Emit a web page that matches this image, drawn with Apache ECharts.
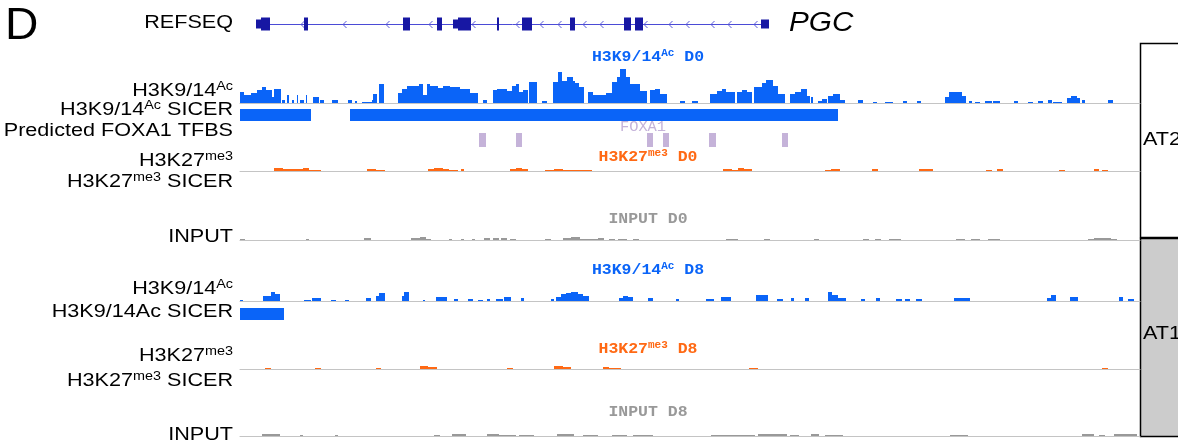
<!DOCTYPE html>
<html><head><meta charset="utf-8">
<script src="https://cdn.jsdelivr.net/npm/echarts@6/dist/echarts.min.js"></script>
<style>html,body{margin:0;padding:0;background:#fff}#c{width:1178px;height:444px}</style>
</head><body><div id="c"></div>
<script>
// ---------------- DATA (genomic units, region 0..900) ----------------
const regionRange = [0, 900];
const geneName = 'PGC';
const geneSpan = [16, 529];
// [start, end, kind]  kind: 'c' coding exon, 'u' UTR
const geneExons = [[16,21,'u'],[21,30,'c'],[64,68,'c'],[163,170,'c'],[197,202,'c'],[213,218,'u'],[218,231,'c'],[257,259,'c'],[282,292,'c'],[330,335,'c'],[384,391,'c'],[395,403,'c'],[521,529,'u']];
const geneStrandMarks = [62,104,147,190,233,277,301,319,344,361,405,430,447,472,489,515];

// bedGraph-style signal tracks: [start, end, value]
const h3k9acD0 = [[0,4,11],[4,11,8],[11,17,10],[17,22,13],[22,26,16],[26,32,13],[32,34,6],[34,41,14],[42,45,3],[47,49,8],[52,54,3],[57,58,8],[60,64,3],[66,67,8],[73,79,6],[80,84,3],[92,98,3],[108,112,3],[115,117,2],[122,132,1],[132,133,3],[133,137,9],[139,144,19],
[158,162,10],[162,167,14],[167,175,17],[175,179,17],[179,183,19],[183,187,8],[187,190,19],[190,198,17],[198,203,15],[203,210,17],[210,220,16],[220,230,14],[230,238,10],[243,247,3],[253,257,13],[257,267,14],[267,272,12],[272,276,17],[276,279,19],[279,283,11],[283,288,13],[289,297,21],[302,307,2],[313,318,21],[318,322,31],[322,327,22],[327,333,26],[333,335,22],[335,339,20],[339,344,16],[348,353,11],[353,357,8],[357,366,8],[366,372,10],[372,377,21],[377,380,26],[380,386,34],[386,390,26],[390,394,19],[394,400,19],[400,407,12],[410,415,13],[415,420,14],[420,427,9],[440,445,2],
[452,458,2],[470,477,9],[477,482,12],[482,486,14],[486,495,11],[497,502,11],[502,507,13],[507,512,11],[514,522,16],[522,526,20],[526,533,23],[533,538,17],[538,545,9],[550,555,9],[555,561,11],[561,567,14],[567,570,7],[571,573,6],[578,582,2],[582,587,4],[588,590,7],[590,593,7],[593,600,9],[600,605,3],[618,623,3],[633,637,1],[645,653,1],[663,667,2],[677,681,2],[705,709,6],[709,722,11],[722,726,7],[729,732,2],[735,740,1],[745,752,2],[753,760,2],[774,778,2],[788,793,1],[798,803,2],[808,812,3],[813,822,1],[827,831,5],[831,837,7],[837,840,5],[842,845,3],[868,873,3]];
const h3k27me3D0 = [[34,43,3],[43,54,2],[54,63,2],[63,69,3],[69,81,1],[127,136,2],[136,145,1],[188,194,2],[194,203,3],[203,209,2],[209,218,1],[221,224,2],[270,276,2],[276,282,3],[282,288,2],[305,314,1],[314,323,2],[323,331,1],[331,340,1],[340,352,1],[483,492,2],[492,498,1],[498,504,3],[504,512,2],[585,591,1],[591,600,2],[632,638,2],[679,693,2],[746,752,1],[757,763,2],[819,825,1],[854,859,2],[862,868,1]];
const inputD0 = [[0,5,1],[66,69,1],[124,131,2],[171,180,2],[180,186,3],[186,191,1],[209,212,1],[221,224,1],[232,235,1],[244,250,2],[253,259,2],[261,267,2],[270,276,1],[305,311,1],[323,331,2],[331,340,3],[340,358,1],[358,364,2],[369,375,1],[378,387,1],[393,399,1],[486,498,1],[524,530,1],[574,579,1],[623,629,1],[635,641,1],[649,661,1],[716,725,1],[731,740,1],[748,760,1],[848,854,1],[854,859,2],[859,871,2],[871,877,1]];
const h3k9acD8 = [[0,3,1],[23,31,5],[31,35,9],[35,40,7],[64,71,1],[72,81,3],[91,96,1],[105,109,1],[126,131,3],[136,139,5],[139,145,8],[162,164,5],[164,169,9],[183,185,1],[196,207,4],[214,218,2],[228,233,2],[238,243,1],[247,250,2],[256,263,2],[264,271,4],[281,284,3],[311,314,2],[316,321,4],[321,326,7],[326,331,8],[331,338,9],[338,343,7],[343,349,5],[379,383,3],[383,388,5],[388,393,4],[408,413,3],[436,439,2],
[466,474,2],[481,491,4],[516,528,6],[537,543,2],[551,554,3],[565,569,3],[588,592,9],[592,598,6],[598,606,3],[621,625,2],[636,640,3],[656,662,2],[665,670,2],[676,682,2],[714,730,3],[807,811,3],[811,816,6],[830,838,4],[879,883,4],[888,894,2]];
const h3k27me3D8 = [[25,31,1],[75,81,1],[136,141,1],[180,188,3],[188,197,2],[267,273,1],[314,323,3],[323,331,2],[363,369,2],[369,381,1],[509,518,1],[862,868,1]];
const inputD8 = [[22,40,2],[60,63,1],[95,98,1],[194,200,1],[212,226,2],[247,259,2],[259,276,1],[279,294,1],[317,334,2],[343,358,1],[372,387,1],[393,413,1],[471,501,1],[501,515,1],[518,530,2],[530,547,2],[550,559,1],[571,579,2],[585,603,1],[710,728,1],[842,854,2],[859,865,1],[874,897,2]];
// islands / sites: [start, end]
const sicerH3k9acD0 = [[0,71],[110,598]];
const sicerH3k9acD8 = [[0,44]];
const sicerH3k27me3D0 = [];
const sicerH3k27me3D8 = [];
const foxa1Sites = [[239,246],[276,282],[407,413],[423,429],[469,476],[542,548]];

// text
const panelLetter = 'D';
const trackTitles = [['H3K9/14','Ac',' D0'],['H3K27','me3',' D0'],['INPUT D0','',''],['H3K9/14','Ac',' D8'],['H3K27','me3',' D8'],['INPUT D8','','']];
const rowLabels = [['REFSEQ','',''],['H3K9/14','Ac',''],['H3K9/14','Ac',' SICER'],['Predicted FOXA1 TFBS','',''],['H3K27','me3',''],['H3K27','me3',' SICER'],['INPUT','',''],['H3K9/14','Ac',''],['H3K9/14Ac SICER','',''],['H3K27','me3',''],['H3K27','me3',' SICER'],['INPUT','','']];
const sideGroups = ['AT2','AT1'];
const foxa1Label = 'FOXA1';

// ---------------- LAYOUT / STYLE ----------------
const BLUE = '#0a64f8', ORANGE = '#ff6914', GRAY = '#999999', PURPLE = '#c5b3d9';
const X0 = 240, XW = 900;
const grids = [], xAxes = [], yAxes = [], series = [];
function addGrid(top, height, ymin, ymax, baseline) {
  const i = grids.length;
  grids.push({left: X0, width: XW, top: top, height: height});
  xAxes.push({type:'value', gridIndex:i, min:regionRange[0], max:regionRange[1], show:true,
    axisLine:{show:!!baseline, onZero:false, lineStyle:{color:'#c4c4c4', width:1}},
    axisTick:{show:false}, axisLabel:{show:false}, splitLine:{show:false}});
  yAxes.push({type:'value', gridIndex:i, min:ymin, max:ymax, show:false, splitLine:{show:false}});
  return i;
}
function rectItem(color) {
  return function(p, api) {
    const a = api.coord([api.value(0), api.value(2)]);
    const b = api.coord([api.value(1), api.value(3)]);
    return {type:'rect', shape:{x:a[0], y:a[1], width:Math.max(1,b[0]-a[0]), height:b[1]-a[1]}, style:{fill:color}};
  };
}
function bedSeries(gi, data, color) {
  return {type:'custom', xAxisIndex:gi, yAxisIndex:gi, silent:true, animation:false, clip:false,
    data: data.map(d => [d[0], d[1], d[2], 0]), encode:{x:[0,1], y:[2,3]}, renderItem: rectItem(color)};
}
function blockSeries(gi, data, color) {
  return {type:'custom', xAxisIndex:gi, yAxisIndex:gi, silent:true, animation:false, clip:false,
    data: data.map(d => [d[0], d[1], 1, 0]), encode:{x:[0,1], y:[2,3]}, renderItem: rectItem(color)};
}

// gene model
const gG = addGrid(14, 20, -1, 1, false);
series.push({type:'custom', xAxisIndex:gG, yAxisIndex:gG, silent:true, animation:false, data:[geneSpan],
  encode:{x:[0,1]}, renderItem:(p, api) => {
    const a = api.coord([api.value(0), 0]), b = api.coord([api.value(1), 0]);
    return {type:'line', shape:{x1:a[0], y1:Math.round(a[1])+0.5, x2:b[0], y2:Math.round(a[1])+0.5}, style:{stroke:'#4b4bd6', lineWidth:1}};
  }});
series.push({type:'custom', xAxisIndex:gG, yAxisIndex:gG, silent:true, animation:false,
  data: geneStrandMarks.map(v => [v]), encode:{x:0}, renderItem:(p, api) => {
    const a = api.coord([api.value(0), 0]);
    const y = Math.round(a[1]) + 0.5;
    return {type:'polyline', shape:{points:[[a[0]+2.5, y-3.5],[a[0]-1, y],[a[0]+2.5, y+3.5]]}, style:{stroke:'#5a5ad8', lineWidth:1, fill:null}};
  }});
series.push({type:'custom', xAxisIndex:gG, yAxisIndex:gG, silent:true, animation:false, clip:false,
  data: geneExons.map(e => { const h = e[2] === 'u' ? 0.45 : 0.65; return [e[0], e[1], h, -h]; }),
  encode:{x:[0,1], y:[2,3]}, renderItem: rectItem('#1717a3')});

// tracks
const tracks = [
  {base:103, h:36, data:h3k9acD0, color:BLUE},
  {base:171, h:36, data:h3k27me3D0, color:ORANGE},
  {base:240, h:36, data:inputD0, color:GRAY},
  {base:301, h:36, data:h3k9acD8, color:BLUE},
  {base:369, h:36, data:h3k27me3D8, color:ORANGE},
  {base:436, h:36, data:inputD8, color:GRAY}
];
tracks.forEach(t => {
  const gi = addGrid(t.base - t.h, t.h, 0, t.h, true);
  series.push(bedSeries(gi, t.data, t.color));
});
const blocks = [
  {top:109, h:12, data:sicerH3k9acD0, color:BLUE},
  {top:177, h:12, data:sicerH3k27me3D0, color:ORANGE},
  {top:133, h:14, data:foxa1Sites, color:PURPLE},
  {top:308, h:12, data:sicerH3k9acD8, color:BLUE},
  {top:375, h:12, data:sicerH3k27me3D8, color:ORANGE}
];
blocks.forEach(b => {
  const gi = addGrid(b.top, b.h, 0, 1, false);
  series.push(blockSeries(gi, b.data, b.color));
});

// graphics
const SANS = '"Liberation Sans", Arial, sans-serif';
const MONO = '"Liberation Mono", "Courier New", monospace';
function richText(parts, size, supSize, family, weight) {
  let t = '{m|' + parts[0] + '}';
  if (parts[1]) t += '{s|' + parts[1] + '}';
  if (parts[2]) t += '{m|' + parts[2] + '}';
  return {text:t, rich:{
    m:{fontSize:size, fontFamily:family, fontWeight:weight, lineHeight:size+2},
    s:{fontSize:supSize, fontFamily:family, fontWeight:weight, lineHeight:supSize+1, verticalAlign:'top'}
  }};
}
const graphics = [];
graphics.push({type:'text', x:5, y:27, scaleX:1.05, style:{text:panelLetter, font:'44px ' + SANS, fill:'#000', verticalAlign:'middle'}});
const labelY = [23, 91, 110, 131, 161, 182, 237, 289, 312, 356, 381, 435];
rowLabels.forEach((p, i) => {
  const r = richText(p, 18, 12, SANS, 'normal');
  graphics.push({type:'text', x:233, y:labelY[i], scaleX:1.2, style:{text:r.text, rich:r.rich, fill:'#000', align:'right', verticalAlign:'middle'}});
});
graphics.push({type:'text', x:789, y:23, scaleX:1.1, style:{text:geneName, font:'italic 27px ' + SANS, fill:'#000', verticalAlign:'middle'}});
const titleY = [57, 157, 219, 270, 349, 412];
const titleColor = [BLUE, ORANGE, GRAY, BLUE, ORANGE, GRAY];
trackTitles.forEach((p, i) => {
  const r = richText(p, 15, 10, MONO, 'bold');
  graphics.push({type:'text', x:648, y:titleY[i], scaleX:1.1, style:{text:r.text, rich:r.rich, fill:titleColor[i], align:'center', verticalAlign:'middle'}});
});
graphics.push({type:'text', x:643, y:127, scaleX:1.1, style:{text:foxa1Label, font:'14px ' + MONO, fill:PURPLE, align:'center', verticalAlign:'middle'}});
// side group boxes
graphics.push({type:'rect', shape:{x:1140.5, y:43.5, width:60, height:194}, style:{fill:'#ffffff', stroke:'#000', lineWidth:1.5}});
graphics.push({type:'rect', shape:{x:1140.5, y:238.5, width:60, height:198}, style:{fill:'#cccccc', stroke:'#000', lineWidth:1.5}});
graphics.push({type:'text', x:1143, y:140, scaleX:1.2, style:{text:sideGroups[0], font:'18px ' + SANS, fill:'#000', verticalAlign:'middle'}});
graphics.push({type:'text', x:1143, y:334, scaleX:1.2, style:{text:sideGroups[1], font:'18px ' + SANS, fill:'#000', verticalAlign:'middle'}});

const chart = echarts.init(document.getElementById('c'), null, {renderer:'canvas'});
chart.setOption({animation:false, grid:grids, xAxis:xAxes, yAxis:yAxes, series:series, graphic:graphics});
</script></body></html>
